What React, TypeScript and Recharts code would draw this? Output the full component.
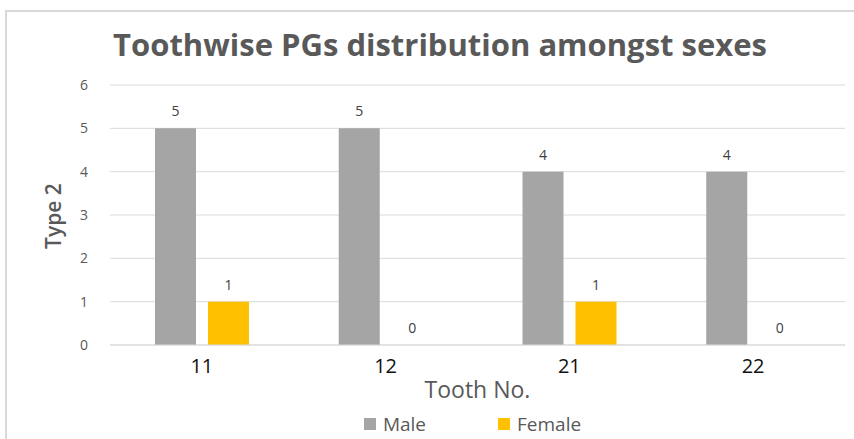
import React from 'react';
import { BarChart, Bar, XAxis, YAxis, CartesianGrid, Legend, LabelList } from 'recharts';

const teeth = ['11', '12', '21', '22'];
const maleCounts = [5, 5, 4, 4];
const femaleCounts = [1, 0, 1, 0];
const yTicks = [0, 1, 2, 3, 4, 5, 6];
const seriesOrder = ['Male', 'Female'];

const data = teeth.map((tooth, i) => ({ tooth, male: maleCounts[i], female: femaleCounts[i] }));

const FONT = '"Open Sans", "DejaVu Sans", sans-serif';

const renderLegend = (props: any) => {
  const items = [...props.payload].sort(
    (a: any, b: any) => seriesOrder.indexOf(a.value) - seriesOrder.indexOf(b.value)
  );
  return (
    <div style={{ display: 'flex', justifyContent: 'center', gap: 72, fontFamily: FONT, fontSize: 19, color: '#595959', paddingLeft: 100 }}>
      {items.map((entry: any) => (
        <div key={entry.value} style={{ display: 'flex', alignItems: 'center' }}>
          <span style={{ display: 'inline-block', width: 12, height: 12, background: entry.color, marginRight: 7 }} />
          <span>{entry.value}</span>
        </div>
      ))}
    </div>
  );
};

const App: React.FC = () => {
  return (
    <div style={{ position: 'absolute', left: 0, top: 0, width: 854, height: 439, background: '#fff', fontFamily: FONT }}>
      <div style={{ position: 'absolute', left: 5, top: 10, width: 849, height: 429, borderLeft: '2px solid #d9d9d9', borderTop: '2px solid #d9d9d9' }} />
      <div style={{ position: 'absolute', left: 0, width: 880, top: 23, textAlign: 'center', fontSize: 31, fontWeight: 700, color: '#595959', whiteSpace: 'nowrap' }}>
        Toothwise PGs distribution amongst sexes
      </div>
      <BarChart
        width={854}
        height={439}
        data={data}
        margin={{ top: 85, right: 9, left: 0, bottom: 2 }}
        barSize={41}
        barGap={12}
      >
        <CartesianGrid vertical={false} stroke="#d9d9d9" />
        <XAxis
          dataKey="tooth"
          axisLine={{ stroke: '#d9d9d9' }}
          tickLine={false}
          tickMargin={8}
          height={66}
          tick={{ fill: '#111', fontSize: 20, fontFamily: FONT }}
          label={{ value: 'Tooth No.', position: 'insideBottom', offset: 13, fill: '#595959', fontSize: 23, fontFamily: FONT }}
        />
        <YAxis
          domain={[0, 6]}
          ticks={yTicks}
          width={110}
          axisLine={false}
          tickLine={false}
          tickMargin={16}
          tick={{ fill: '#595959', fontSize: 14, fontFamily: FONT }}
          label={{ value: 'Type 2', angle: -90, position: 'insideLeft', dx: 49, dy: 1, textAnchor: 'middle', fill: '#595959', fontSize: 21, fontWeight: 600, fontFamily: FONT }}
        />
        <Legend content={renderLegend} verticalAlign="bottom" />
        <Bar dataKey="male" name="Male" fill="#a5a5a5" isAnimationActive={false}>
          <LabelList dataKey="male" position="top" offset={12} fill="#404040" fontSize={14} fontFamily={FONT} />
        </Bar>
        <Bar dataKey="female" name="Female" fill="#ffc000" minPointSize={0.01} isAnimationActive={false}>
          <LabelList dataKey="female" position="top" offset={12} fill="#404040" fontSize={14} fontFamily={FONT} />
        </Bar>
      </BarChart>
    </div>
  );
};

export default App;
